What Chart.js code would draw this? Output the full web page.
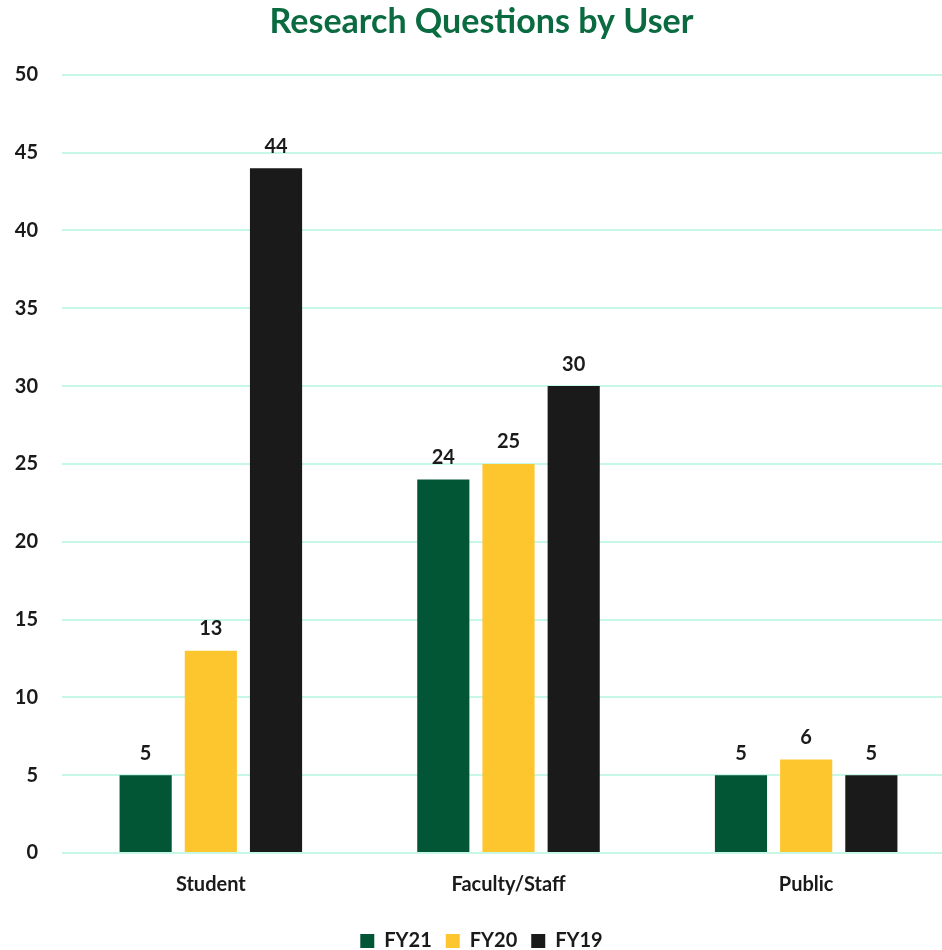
<!DOCTYPE html>
<html>
<head>
<meta charset="utf-8">
<script src="https://cdn.jsdelivr.net/npm/chart.js@4"></script>
<style>
  html, body { margin: 0; padding: 0; background: #fff; overflow: hidden; }
  #wrap { width: 957px; height: 950px; }
</style>
</head>
<body>
<div id="wrap"><canvas id="bar1"></canvas></div>
<script>
const categories = ["Student", "Faculty/Staff", "Public"];
const fy21 = [5, 24, 5];
const fy20 = [13, 25, 6];
const fy19 = [44, 30, 5];
const yTicks = [0, 5, 10, 15, 20, 25, 30, 35, 40, 45, 50];

const FONT = "Lato, 'Open Sans', sans-serif";

// draws the value above each bar
const valueLabels = {
    id: "valueLabels",
    afterDatasetsDraw(chart) {
        const ctx = chart.ctx;
        ctx.save();
        ctx.font = "bold 20px " + FONT;
        ctx.fillStyle = "#1a1a1a";
        ctx.textAlign = "center";
        ctx.textBaseline = "bottom";
        chart.data.datasets.forEach((ds, i) => {
            chart.getDatasetMeta(i).data.forEach((bar, j) => {
                ctx.fillText(ds.data[j], bar.x, bar.y - 12);
            });
        });
        ctx.restore();
    }
};

let ctx = document.getElementById("bar1").getContext("2d");
new Chart(ctx, {
    type: "bar",
    data: {
        labels: categories,
        datasets: [
            { label: "FY21", data: fy21, backgroundColor: "#025635" },
            { label: "FY20", data: fy20, backgroundColor: "#fec62e" },
            { label: "FY19", data: fy19, backgroundColor: "#1a1a1a" }
        ]
    },
    options: {
        responsive: true,
        maintainAspectRatio: false,
        animation: false,
        categoryPercentage: 0.657,
        barPercentage: 0.8,
        layout: { padding: { left: 8, right: 2, top: 0, bottom: -11 } },
        plugins: {
            title: {
                display: true,
                text: "Research Questions by User",
                color: "#0a6a40",
                font: { family: FONT, size: 34, weight: "bold" },
                padding: { top: 2, bottom: 32 }
            },
            legend: {
                position: "bottom",
                labels: {
                    color: "#1a1a1a",
                    font: { family: FONT, size: 20, weight: "bold" },
                    boxWidth: 14,
                    boxHeight: 14,
                    padding: 14
                }
            },
            tooltip: { enabled: false }
        },
        scales: {
            x: {
                grid: { display: false, drawTicks: false },
                border: { display: false },
                ticks: {
                    color: "#1a1a1a",
                    font: { family: FONT, size: 20, weight: "bold" },
                    padding: 20
                }
            },
            y: {
                min: 0,
                max: 50,
                afterBuildTicks: axis => { axis.ticks = yTicks.map(v => ({ value: v })); },
                afterFit: axis => { axis.width = 54; },
                grid: { color: "#c6f7e7", lineWidth: 2, drawTicks: false },
                border: { display: false },
                ticks: {
                    color: "#1a1a1a",
                    font: { family: FONT, size: 20, weight: "bold" },
                    padding: 24
                }
            }
        }
    },
    plugins: [valueLabels]
});
</script>
</body>
</html>
